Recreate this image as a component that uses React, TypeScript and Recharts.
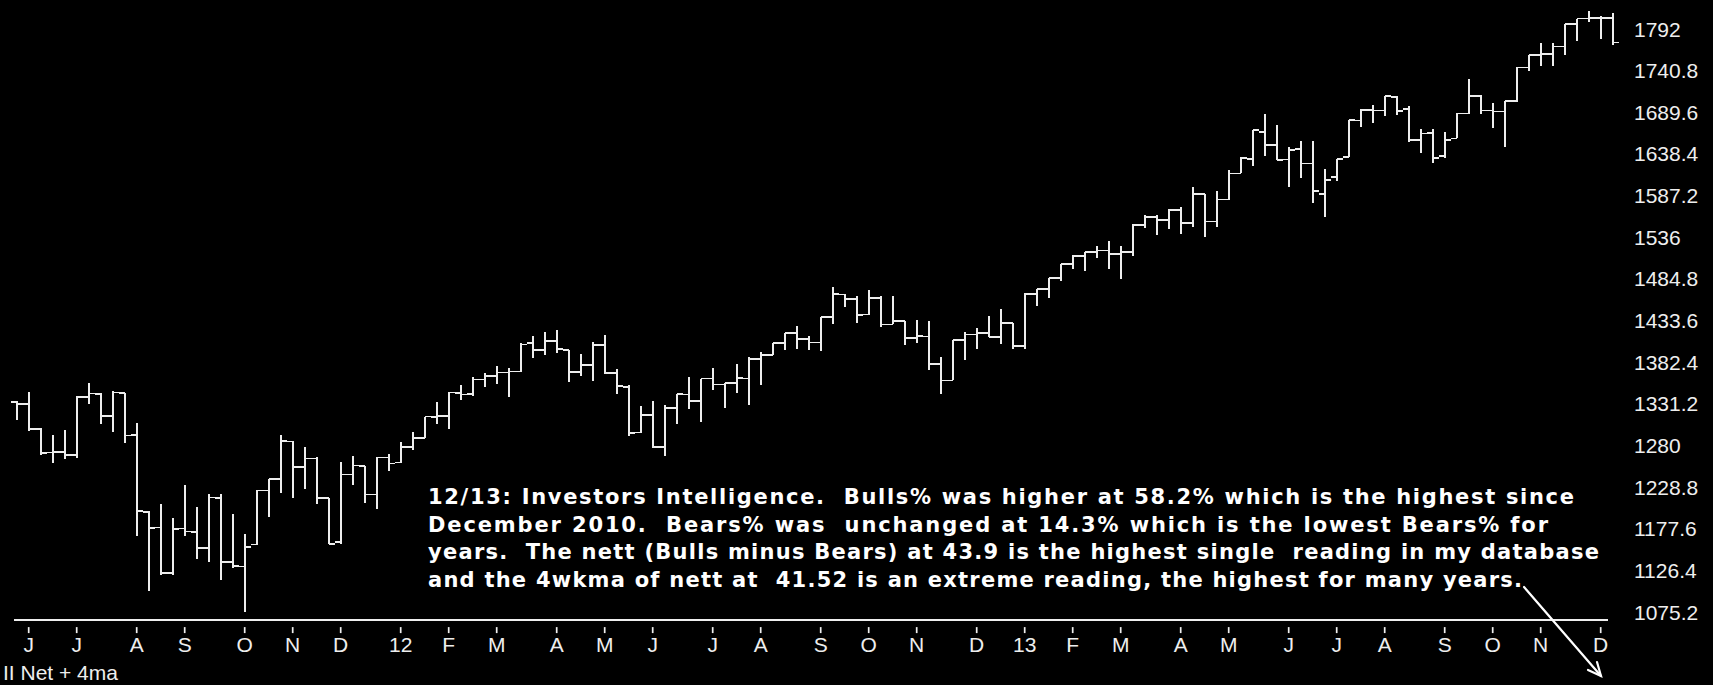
import { ComposedChart, Bar, XAxis, YAxis } from 'recharts';

// weekly bars, friday dates
const weeks = [
  '2011-05-27', '2011-06-03', '2011-06-10', '2011-06-17', '2011-06-24', '2011-07-01', '2011-07-08', '2011-07-15',
  '2011-07-22', '2011-07-29', '2011-08-05', '2011-08-12', '2011-08-19', '2011-08-26', '2011-09-02', '2011-09-09',
  '2011-09-16', '2011-09-23', '2011-09-30', '2011-10-07', '2011-10-14', '2011-10-21', '2011-10-28', '2011-11-04',
  '2011-11-11', '2011-11-18', '2011-11-25', '2011-12-02', '2011-12-09', '2011-12-16', '2011-12-23', '2011-12-30',
  '2012-01-06', '2012-01-13', '2012-01-20', '2012-01-27', '2012-02-03', '2012-02-10', '2012-02-17', '2012-02-24',
  '2012-03-02', '2012-03-09', '2012-03-16', '2012-03-23', '2012-03-30', '2012-04-06', '2012-04-13', '2012-04-20',
  '2012-04-27', '2012-05-04', '2012-05-11', '2012-05-18', '2012-05-25', '2012-06-01', '2012-06-08', '2012-06-15',
  '2012-06-22', '2012-06-29', '2012-07-06', '2012-07-13', '2012-07-20', '2012-07-27', '2012-08-03', '2012-08-10',
  '2012-08-17', '2012-08-24', '2012-08-31', '2012-09-07', '2012-09-14', '2012-09-21', '2012-09-28', '2012-10-05',
  '2012-10-12', '2012-10-19', '2012-10-26', '2012-11-02', '2012-11-09', '2012-11-16', '2012-11-23', '2012-11-30',
  '2012-12-07', '2012-12-14', '2012-12-21', '2012-12-28',
  '2013-01-04', '2013-01-11', '2013-01-18', '2013-01-25', '2013-02-01', '2013-02-08', '2013-02-15', '2013-02-22',
  '2013-03-01', '2013-03-08', '2013-03-15', '2013-03-22', '2013-03-29', '2013-04-05', '2013-04-12', '2013-04-19',
  '2013-04-26', '2013-05-03', '2013-05-10', '2013-05-17', '2013-05-24', '2013-05-31', '2013-06-07', '2013-06-14',
  '2013-06-21', '2013-06-28', '2013-07-05', '2013-07-12', '2013-07-19', '2013-07-26', '2013-08-02', '2013-08-09',
  '2013-08-16', '2013-08-23', '2013-08-30', '2013-09-06', '2013-09-13', '2013-09-20', '2013-09-27', '2013-10-04',
  '2013-10-11', '2013-10-18', '2013-10-25', '2013-11-01', '2013-11-08', '2013-11-15', '2013-11-22', '2013-11-29',
  '2013-12-06', '2013-12-13',
];

const opens = [
  1333.1, 1331.1, 1300.3, 1271.2, 1271.5, 1268.4, 1339.6, 1343.3, 1315.9, 1344.3, 1292.6, 1198.5, 1179.2, 1123.2,
  1177.9, 1173.8, 1153.5, 1214.9, 1136.9, 1131.2, 1158.2, 1224.5, 1238.7, 1284.9, 1253.2, 1263.9, 1215.6, 1161.4,
  1244.3, 1255.1, 1219.7, 1265.0,
  1258.9, 1277.8, 1289.1, 1315.3, 1316.0, 1344.3, 1343.1, 1361.2, 1365.2, 1369.6, 1370.8, 1405.5, 1397.1, 1408.5,
  1397.5, 1370.3, 1378.5, 1403.3, 1369.0, 1351.9, 1295.7, 1317.8, 1278.3, 1325.7, 1342.4, 1334.9, 1362.3, 1354.7,
  1356.5, 1362.3, 1385.8, 1391.0, 1405.9, 1418.1, 1410.4, 1406.5, 1437.9, 1465.4, 1460.3, 1440.9, 1460.9, 1428.8,
  1433.2, 1411.9, 1414.0, 1379.9, 1359.9, 1409.2, 1416.2, 1418.1, 1413.5, 1430.2,
  1402.4, 1466.5, 1472.1, 1486.0, 1503.0, 1513.2, 1517.9, 1519.8, 1515.6, 1518.2, 1551.2, 1560.7, 1556.9, 1569.2,
  1553.3, 1588.9, 1555.3, 1582.3, 1614.4, 1632.1, 1665.7, 1649.6, 1631.7, 1644.7, 1626.7, 1588.8, 1609.8, 1634.2,
  1679.6, 1692.4, 1691.7, 1708.0, 1693.4, 1655.3, 1664.3, 1635.9, 1657.4, 1688.0, 1709.9, 1691.8, 1690.5, 1703.2,
  1744.5, 1759.8, 1761.6, 1770.6, 1798.2, 1804.8, 1805.8, 1805.1,
];

const highs = [
  1334.5, 1345.2, 1300.9, 1292.5, 1298.6, 1341.0, 1356.5, 1344.0, 1347.0, 1344.3, 1307.4, 1199.7, 1208.5, 1190.7,
  1230.7, 1204.4, 1220.4, 1220.0, 1195.9, 1171.4, 1224.6, 1239.0, 1292.7, 1284.9, 1277.6, 1266.0, 1215.6, 1260.1,
  1267.1, 1255.1, 1265.4, 1269.4,
  1284.6, 1296.8, 1315.5, 1333.5, 1345.3, 1354.3, 1364.2, 1368.9, 1378.0, 1374.8, 1406.0, 1414.0, 1419.2, 1422.4,
  1397.5, 1392.8, 1406.6, 1415.3, 1373.4, 1354.7, 1328.5, 1334.9, 1329.2, 1343.3, 1363.5, 1362.2, 1374.8, 1356.8,
  1380.4, 1389.2, 1394.5, 1405.9, 1418.7, 1426.7, 1413.9, 1438.0, 1474.5, 1465.6, 1463.4, 1470.9, 1464.0, 1464.0,
  1433.2, 1434.3, 1433.4, 1388.8, 1409.2, 1420.0, 1424.0, 1439.6, 1448.0, 1430.2,
  1467.9, 1472.3, 1486.0, 1503.3, 1514.4, 1518.3, 1524.7, 1530.9, 1525.3, 1552.5, 1563.6, 1563.0, 1570.3, 1573.7,
  1597.4, 1588.9, 1592.6, 1618.5, 1635.0, 1667.5, 1687.2, 1674.2, 1646.5, 1654.2, 1654.2, 1620.1, 1632.1, 1680.2,
  1693.1, 1698.8, 1709.7, 1709.2, 1697.9, 1669.2, 1669.5, 1664.8, 1689.0, 1729.9, 1711.0, 1700.8, 1703.4, 1745.3,
  1759.8, 1775.2, 1774.5, 1798.2, 1804.8, 1813.6, 1808.4, 1811.5,
];

const lows = [
  1311.8, 1297.9, 1268.2, 1258.1, 1262.7, 1265.0, 1331.5, 1306.3, 1295.9, 1282.9, 1168.1, 1101.5, 1121.1, 1121.1,
  1168.6, 1140.1, 1136.1, 1114.2, 1129.0, 1074.8, 1157.0, 1191.5, 1221.1, 1215.4, 1226.6, 1208.5, 1158.7, 1158.7,
  1231.5, 1209.5, 1202.4, 1248.6,
  1258.9, 1274.7, 1289.1, 1306.1, 1300.5, 1335.9, 1340.8, 1352.3, 1354.9, 1340.0, 1370.8, 1386.9, 1391.6, 1393.6,
  1357.4, 1365.4, 1358.8, 1367.8, 1343.1, 1291.9, 1295.7, 1277.3, 1266.7, 1306.6, 1324.4, 1309.3, 1348.0, 1325.4,
  1344.5, 1329.2, 1354.7, 1391.0, 1397.3, 1398.0, 1397.0, 1396.6, 1429.1, 1449.6, 1430.5, 1440.9, 1425.5, 1428.8,
  1403.3, 1405.9, 1373.0, 1343.4, 1359.9, 1385.4, 1398.1, 1412.8, 1405.0, 1398.1,
  1398.1, 1451.6, 1461.0, 1482.0, 1496.3, 1495.0, 1510.0, 1497.3, 1485.0, 1512.3, 1547.4, 1538.6, 1546.2, 1539.5,
  1548.6, 1536.0, 1548.2, 1581.3, 1614.4, 1623.7, 1635.5, 1630.7, 1598.2, 1608.2, 1577.7, 1560.3, 1604.6, 1634.2,
  1671.8, 1676.0, 1684.9, 1686.0, 1652.6, 1639.4, 1627.5, 1633.4, 1657.4, 1687.1, 1687.7, 1670.4, 1646.5, 1702.0,
  1740.5, 1746.5, 1746.2, 1760.6, 1777.2, 1800.0, 1779.1, 1772.3,
];

const closes = [
  1331.1, 1300.2, 1271.0, 1271.5, 1268.5, 1339.7, 1343.8, 1316.1, 1345.0, 1292.3, 1199.4, 1178.8, 1123.5, 1176.8,
  1174.0, 1154.2, 1216.0, 1136.4, 1131.4, 1155.5, 1224.6, 1238.3, 1285.1, 1253.2, 1263.9, 1215.7, 1158.7, 1244.3,
  1255.2, 1219.7, 1265.3, 1257.6,
  1277.8, 1289.1, 1315.4, 1316.3, 1344.9, 1342.6, 1361.2, 1365.7, 1369.6, 1370.9, 1404.2, 1397.1, 1408.5, 1398.1,
  1370.3, 1378.5, 1403.4, 1369.1, 1353.4, 1295.2, 1317.8, 1278.0, 1325.7, 1342.8, 1335.0, 1362.2, 1354.7, 1356.8,
  1362.7, 1386.0, 1391.0, 1405.9, 1418.2, 1411.1, 1406.6, 1437.9, 1465.8, 1460.2, 1440.7, 1460.9, 1428.6, 1433.2,
  1411.9, 1414.2, 1379.9, 1359.9, 1409.2, 1416.2, 1418.1, 1413.6, 1430.2, 1402.4,
  1466.5, 1472.1, 1486.0, 1503.0, 1513.2, 1517.9, 1519.8, 1515.6, 1518.2, 1551.2, 1560.7, 1556.9, 1569.2, 1553.3,
  1588.9, 1555.3, 1582.2, 1614.4, 1633.7, 1667.5, 1649.6, 1630.7, 1643.4, 1626.7, 1592.4, 1606.3, 1631.9, 1680.2,
  1692.1, 1691.7, 1709.7, 1691.4, 1655.8, 1663.5, 1633.0, 1655.2, 1688.0, 1709.9, 1691.8, 1690.5, 1703.2, 1744.5,
  1759.8, 1761.6, 1770.6, 1798.2, 1804.8, 1805.8, 1805.1, 1775.3,
];

const priceTicks = [
  1075.2, 1126.4, 1177.6, 1228.8, 1280, 1331.2, 1382.4, 1433.6, 1484.8, 1536, 1587.2, 1638.4, 1689.6, 1740.8, 1792,
];

const monthLetters = ['J', 'F', 'M', 'A', 'M', 'J', 'J', 'A', 'S', 'O', 'N', 'D'];

const noteLines = [
  '12/13: Investors Intelligence.  Bulls% was higher at 58.2% which is the highest since',
  'December 2010.  Bears% was  unchanged at 14.3% which is the lowest Bears% for',
  'years.  The nett (Bulls minus Bears) at 43.9 is the highest single  reading in my database',
  'and the 4wkma of nett at  41.52 is an extreme reading, the highest for many years.',
];

const indicatorName = 'II Net + 4ma';

const data = weeks.map((week, i) => ({
  week,
  open: opens[i],
  high: highs[i],
  low: lows[i],
  close: closes[i],
  range: [lows[i], highs[i]],
}));

const LABEL_FONT = "'Liberation Sans', Arial, sans-serif";
const INK = '#eeeeee';
// pixel widths of the note lines in the screenshot
const noteWidths = [1146, 1120, 1171, 1094];

function OhlcBar(props: any) {
  const { x, y, width, height, payload } = props;
  if (!payload) return null;
  const top = Math.min(y, y + height);
  const bottom = Math.max(y, y + height);
  const span = payload.high - payload.low || 1;
  const toY = (v: number) => top + ((payload.high - v) / span) * (bottom - top);
  const cx = x + width / 2;
  const yo = toY(payload.open);
  const yc = toY(payload.close);
  return (
    <g stroke={INK} strokeWidth={1.7} shapeRendering="crispEdges">
      <line x1={cx} x2={cx} y1={top} y2={bottom} />
      <line x1={x} x2={cx} y1={yo} y2={yo} />
      <line x1={cx} x2={x + width} y1={yc} y2={yc} />
    </g>
  );
}

function monthLabel(i: number) {
  if (i <= 0) return null;
  const m = weeks[i].slice(5, 7);
  if (m === weeks[i - 1].slice(5, 7)) return null;
  const mi = Number(m) - 1;
  return mi === 0 ? weeks[i].slice(2, 4) : monthLetters[mi];
}

function MonthTick(props: any) {
  const { x, y, payload } = props;
  const i = weeks.indexOf(payload.value);
  const label = monthLabel(i);
  if (!label) return null;
  return (
    <g>
      <line x1={x} x2={x} y1={y - 1} y2={y + 5} stroke={INK} strokeWidth={1.7} />
      <text x={x} y={652} textAnchor="middle" fill={INK} fontSize={21} fontFamily={LABEL_FONT}>
        {label}
      </text>
    </g>
  );
}

function PriceTick(props: any) {
  const { y, payload } = props;
  return (
    <text x={1634} y={y} dy="0.36em" fill={INK} fontSize={21} fontFamily={LABEL_FONT}>
      {payload.value}
    </text>
  );
}

export default function App() {
  return (
    <div style={{ position: 'relative', width: 1713, height: 685, background: '#000' }}>
      <style>{'html,body{margin:0;padding:0;background:#000;}'}</style>
      <ComposedChart
        width={1713}
        height={685}
        data={data}
        margin={{ top: 1, right: 0, bottom: 0, left: 10.7 }}
        barCategoryGap={0}
        barGap={0}
      >
        <XAxis
          dataKey="week"
          type="category"
          interval={0}
          height={64.9}
          axisLine={false}
          tickLine={false}
          tick={<MonthTick />}
        />
        <YAxis
          orientation="right"
          width={94.3}
          domain={[1065.2, 1826.4]}
          allowDataOverflow
          ticks={priceTicks}
          interval={0}
          axisLine={false}
          tickLine={false}
          tick={<PriceTick />}
        />
        <Bar dataKey="range" shape={<OhlcBar />} isAnimationActive={false} />
      </ComposedChart>
      <svg
        width={1713}
        height={685}
        style={{ position: 'absolute', left: 0, top: 0, pointerEvents: 'none' }}
      >
        <line x1={14} x2={1608} y1={620} y2={620} stroke={INK} strokeWidth={2} />
        {noteLines.map((line, i) => (
          <text
            key={i}
            x={428}
            y={504 + i * 27.7}
            fill="#ffffff"
            fontSize={21}
            fontWeight="bold"
            fontFamily="'DejaVu Sans', Verdana, sans-serif"
            textLength={noteWidths[i]}
            lengthAdjust="spacing"
            style={{ whiteSpace: 'pre' }}
          >
            {line}
          </text>
        ))}
        <g stroke="#ffffff" strokeWidth={2.2} fill="none" strokeLinecap="round">
          <line x1={1524} y1={587} x2={1601} y2={676} />
          <polyline points="1588,670 1601,676 1597,662" />
        </g>
        <text x={3} y={680} fill={INK} fontSize={21} fontFamily={LABEL_FONT}>
          {indicatorName}
        </text>
      </svg>
    </div>
  );
}
